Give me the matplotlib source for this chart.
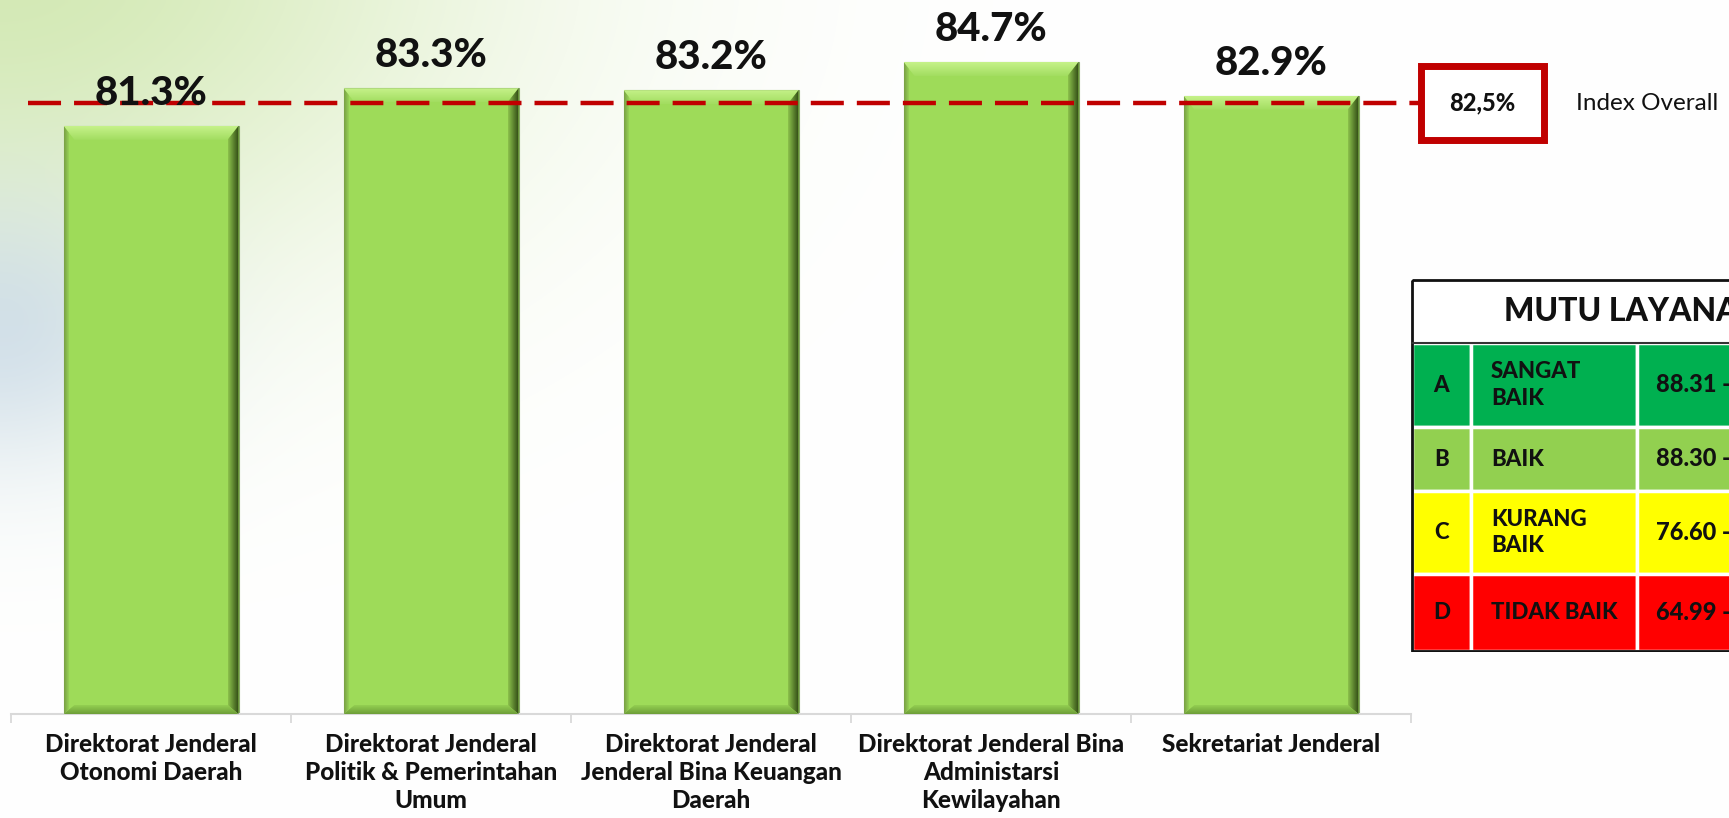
import numpy as np
import matplotlib
matplotlib.use("Agg")
import matplotlib.pyplot as plt
import matplotlib.patches as mpatches
import matplotlib.transforms as mtransforms
from matplotlib.colors import to_rgb

# --- data
categories = [
    "Direktorat Jenderal\nOtonomi Daerah",
    "Direktorat Jenderal\nPolitik & Pemerintahan\nUmum",
    "Direktorat Jenderal\nJenderal Bina Keuangan\nDaerah",
    "Direktorat Jenderal Bina\nAdministarsi\nKewilayahan",
    "Sekretariat Jenderal",
]
values = [81.3, 83.3, 83.2, 84.7, 82.9]
overall = 82.5
overall_label = "82,5%"
overall_text = "Index Overall"

table_title = "MUTU LAYANAN"
grades = ["A", "B", "C", "D"]
grade_names = ["SANGAT\nBAIK", "BAIK", "KURANG\nBAIK", "TIDAK BAIK"]
grade_ranges = ["88.31 - 100.00", "88.30 - 76.61", "76.60 - 65.00", "64.99 - 25.00"]
grade_colors = ["#00b050", "#92d050", "#ffff00", "#ff0000"]

plt.rcParams["font.family"] = ["Lato", "DejaVu Sans"]

W, H = 1729, 818
fig = plt.figure(figsize=(W / 100, H / 100), dpi=100)
fig.patch.set_facecolor("white")


def fx(px):
    return px / W


def fy(py):
    return 1 - py / H


# --- soft background (green / blue swirl on the left)
bg = fig.add_axes([0, 0, 1, 1], zorder=-10)
gx, gy = np.meshgrid(np.linspace(0, W, 346), np.linspace(0, H, 164))
green = 0.85 * np.exp(-((gx / 480) ** 2 + ((gy + 40) / 320) ** 2))
blue = 0.55 * np.exp(-((gx / 160) ** 2 + ((gy - 330) / 140) ** 2))
img = np.ones(gx.shape + (3,))
for w, c in [(green, (0.80, 0.90, 0.66)), (blue, (0.72, 0.80, 0.90))]:
    img = img * (1 - w[..., None]) + np.array(c) * w[..., None]
bg.imshow(img, extent=[0, W, H, 0], aspect="auto", interpolation="bilinear")
bg.set_xlim(0, W)
bg.set_ylim(H, 0)
bg.axis("off")

# --- main bar axes
ax = fig.add_axes([fx(11), fy(714), 1400 / W, 714 / H])
ax.set_facecolor("none")
ymin, ymax = 50, 88
x = np.arange(len(values))
bars = ax.bar(x, values, width=0.625, color="#9edb59", edgecolor="#86a866",
              linewidth=0.8, zorder=2)
ax.set_xlim(-0.5, len(values) - 0.5)
ax.set_ylim(ymin, ymax)

px_y = ax.bbox.height / (ymax - ymin)          # pixels per value unit
px_x = ax.bbox.width / len(values)             # pixels per category


def grad_fill(verts, c_from, c_to, direction, z):
    poly = mpatches.Polygon(verts, closed=True, facecolor="none", edgecolor="none")
    ax.add_patch(poly)
    xs = [v[0] for v in verts]
    ys = [v[1] for v in verts]
    t = np.linspace(0, 1, 64)
    c0, c1 = np.array(to_rgb(c_from)), np.array(to_rgb(c_to))
    cols = c0[None, :] * (1 - t[:, None]) + c1[None, :] * t[:, None]
    g = cols[None, :, :] if direction == "h" else cols[:, None, :]
    im = ax.imshow(g, extent=[min(xs), max(xs), min(ys), max(ys)], origin="lower",
                   aspect="auto", interpolation="bilinear", zorder=z)
    im.set_clip_path(poly)


# bevel look
bx = 11 / px_x
by = 14 / px_y
bb = 9 / px_y
for b in bars:
    x0, x1, top = b.get_x(), b.get_x() + b.get_width(), b.get_height()
    grad_fill([(x0, top), (x1, top), (x1 - bx, top - by), (x0 + bx, top - by)],
              "#a2dd60", "#c6f28a", "v", 3)
    grad_fill([(x1, top), (x1, ymin), (x1 - bx, ymin + bb), (x1 - bx, top - by)],
              "#8cc24c", "#2f4814", "h", 3)
    grad_fill([(x0, ymin), (x1, ymin), (x1 - bx, ymin + bb), (x0 + bx, ymin + bb)],
              "#6e9e38", "#93cf52", "v", 3)
    grad_fill([(x0, top), (x0 + bx * 0.5, top - by * 0.5), (x0 + bx * 0.5, ymin + bb * 0.5), (x0, ymin)],
              "#789f45", "#9edb59", "h", 3)
    ax.text(b.get_x() + b.get_width() / 2, top, f"{top:.1f}%", ha="center", va="baseline",
            fontsize=29, fontweight="black", color="#111111", zorder=6,
            transform=ax.transData + mtransforms.ScaledTranslation(0, 15 / 72, fig.dpi_scale_trans))

ax.set_xlim(-0.5, len(values) - 0.5)
ax.set_ylim(ymin, ymax)

# axis styling
for s in ["top", "left", "right"]:
    ax.spines[s].set_visible(False)
ax.spines["bottom"].set_color("#d9d9d9")
ax.spines["bottom"].set_linewidth(1.5)
ax.set_yticks([])
ax.set_xticks(x)
ax.set_xticklabels(categories, fontsize=17.5, fontweight="black", color="#111111",
                   linespacing=1.25)
ax.set_xticks(np.arange(-0.5, len(values)), minor=True)
ax.tick_params(axis="x", which="major", length=0, pad=14)
ax.tick_params(axis="x", which="minor", length=6.5, color="#d9d9d9", width=1.3)

# overall index line + box
ax.axhline(overall, xmin=(28 - 11) / 1400, xmax=(1421 - 11) / 1400, color="#c00000",
           lw=3.2, dashes=(33 / 4.44, 13 / 4.44), clip_on=False, zorder=5)
trans = mtransforms.blended_transform_factory(fig.transFigure, ax.transData)
hh = 74 / px_y
ax.add_patch(mpatches.Rectangle((fx(1421), overall - hh / 2), 123 / W, hh, transform=trans,
                                facecolor="white", edgecolor="#c00000", linewidth=5,
                                clip_on=False, zorder=7))
ax.text(fx(1482), overall, overall_label, transform=trans, ha="center", va="center",
        fontsize=17, fontweight="black", color="#111111", zorder=8)
ax.text(fx(1576), overall, overall_text, transform=trans, ha="left", va="center",
        fontsize=17.5, color="#111111", zorder=8)

# --- quality table (partly cut off at the right edge, as in the slide)
col_edges = [1412, 1471, 1637, 1856]
row_edges = [280, 343, 427, 491, 574, 651]
tx = fig.add_axes([fx(1411), fy(652), (1870 - 1411) / W, (652 - 279) / H])
tx.set_xlim(1411, 1870)
tx.set_ylim(652, 279)
tx.axis("off")
tx.add_patch(mpatches.Rectangle((col_edges[0], row_edges[0]), col_edges[-1] - col_edges[0],
                                row_edges[1] - row_edges[0], facecolor="white", edgecolor="none"))
tx.text((col_edges[0] + col_edges[-1]) / 2, (row_edges[0] + row_edges[1]) / 2, table_title,
        ha="center", va="center", fontsize=23, fontweight="black", color="#111111")
for i, (g, nm, rg, c) in enumerate(zip(grades, grade_names, grade_ranges, grade_colors)):
    y0, y1 = row_edges[i + 1], row_edges[i + 2]
    yc = (y0 + y1) / 2
    for j in range(3):
        tx.add_patch(mpatches.Rectangle((col_edges[j], y0), col_edges[j + 1] - col_edges[j], y1 - y0,
                                        facecolor=c, edgecolor="white", linewidth=2.5))
    tx.text((col_edges[0] + col_edges[1]) / 2, yc, g, ha="center", va="center",
            fontsize=16, fontweight="black", color="#111111")
    tx.text(col_edges[1] + 20, yc, nm, ha="left", va="center", fontsize=16,
            fontweight="black", color="#111111", linespacing=1.3)
    tx.text(col_edges[2] + 19, yc, rg, ha="left", va="center", fontsize=17,
            fontweight="black", color="#111111", clip_on=False)
tx.add_patch(mpatches.Rectangle((col_edges[0], row_edges[0]), col_edges[-1] - col_edges[0],
                                row_edges[-1] - row_edges[0], facecolor="none",
                                edgecolor="#111111", linewidth=2))
tx.plot([col_edges[0], col_edges[-1]], [row_edges[1], row_edges[1]], color="#333333", lw=1.5)

fig.savefig("out.png", dpi=100)
